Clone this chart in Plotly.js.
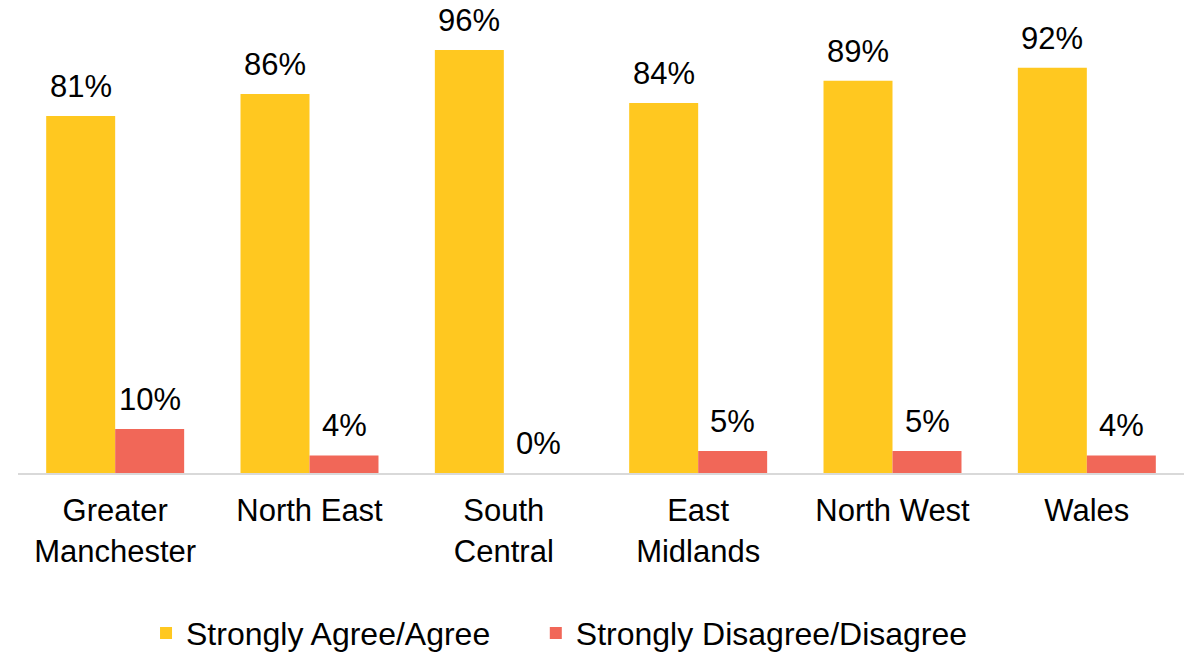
<!DOCTYPE html>
<html>
<head>
<meta charset="utf-8">
<script src="https://cdn.plot.ly/plotly-3.0.1.min.js"></script>
<style>
html,body{margin:0;padding:0;background:#fff;}
#chart{width:1192px;height:652px;}
</style>
</head>
<body>
<div id="chart"></div>
<script>
const categories = ["Greater<br>Manchester", "North East", "South<br>Central", "East<br>Midlands", "North West", "Wales"];
const seriesNames = ["Strongly Agree/Agree", "Strongly Disagree/Disagree"];
const agreeValues = [81, 86, 96, 84, 89, 92];
const disagreeValues = [10, 4, 0, 5, 5, 4];
const colors = ["#FFC820", "#F16758"];

const FONT = "Liberation Sans, Arial, sans-serif";
const FS = 31;

const legendIds = ["legend", "legend2"];
const traces = [agreeValues, disagreeValues].map((vals, i) => ({
  type: "bar",
  name: seriesNames[i],
  x: categories,
  y: vals,
  marker: {color: colors[i]},
  legend: legendIds[i],
  hoverinfo: "none"
}));

const barPx = 69;
const annotations = [];
[agreeValues, disagreeValues].forEach((vals, i) => {
  vals.forEach((v, j) => {
    annotations.push({
      x: categories[j],
      y: v,
      xref: "x",
      yref: "y",
      text: v + "%",
      showarrow: false,
      xanchor: "center",
      yanchor: "bottom",
      xshift: (i === 0 ? -1 : 1) * barPx / 2,
      yshift: 10,
      font: {family: FONT, size: FS, color: "#000"}
    });
  });
});

function legendAt(x) {
  return {
    orientation: "h",
    xref: "container",
    yref: "container",
    x: x,
    xanchor: "left",
    y: 0.029,
    yanchor: "middle",
    font: {family: FONT, size: 32, color: "#000"},
    bgcolor: "rgba(0,0,0,0)"
  };
}

const layout = {
  width: 1192,
  height: 652,
  margin: {l: 18, r: 8, t: 0, b: 179},
  paper_bgcolor: "#fff",
  plot_bgcolor: "#fff",
  barmode: "group",
  bargap: 0.29,
  bargroupgap: 0,
  font: {family: FONT, size: FS, color: "#000"},
  xaxis: {
    type: "category",
    showline: true,
    linecolor: "#D9D9D9",
    linewidth: 2,
    ticks: "outside",
    ticklen: 9,
    tickcolor: "rgba(0,0,0,0)",
    tickfont: {family: FONT, size: FS, color: "#000"},
    showgrid: false,
    zeroline: false,
    fixedrange: true
  },
  yaxis: {
    range: [0, 107.35],
    visible: false,
    showgrid: false,
    zeroline: false,
    fixedrange: true
  },
  showlegend: true,
  legend: legendAt(0.1225),
  legend2: legendAt(0.4495),
  annotations: annotations
};

Plotly.newPlot("chart", traces, layout, {displayModeBar: false, staticPlot: true});
</script>
</body>
</html>
